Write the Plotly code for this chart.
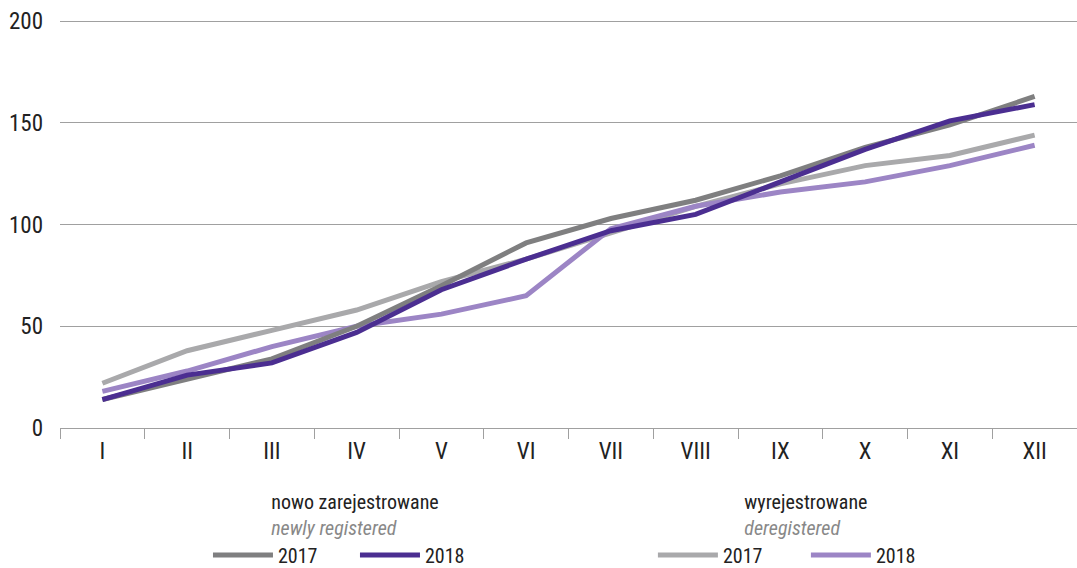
import plotly.graph_objects as go

months = ["I", "II", "III", "IV", "V", "VI", "VII", "VIII", "IX", "X", "XI", "XII"]
new_2017 = [14, 24, 34, 50, 70, 91, 103, 112, 124, 138, 149, 163]
new_2018 = [14, 26, 32, 47, 68, 83, 97, 105, 121, 137, 151, 159]
dereg_2017 = [22, 38, 48, 58, 72, 83, 96, 109, 120, 129, 134, 144]
dereg_2018 = [18, 28, 40, 50, 56, 65, 98, 109, 116, 121, 129, 139]
y_ticks = [0, 50, 100, 150, 200]

FONT = "Roboto Condensed, Liberation Sans Narrow, Roboto, sans-serif"

fig = go.Figure()
series = [
    ("2017", dereg_2017, "#a9a9ab", "legend2", 1),
    ("2018", dereg_2018, "#9c85c5", "legend2", 2),
    ("2017", new_2017, "#7f7f80", "legend", 1),
    ("2018", new_2018, "#4b2e91", "legend", 2),
]
for name, vals, color, lg, rank in series:
    fig.add_trace(go.Scatter(
        x=months, y=vals, name=name, mode="lines",
        line=dict(color=color, width=5), legend=lg, legendrank=rank,
    ))

def legend_cfg(x, title, entryw):
    return dict(
        x=x, y=-0.136, xref="paper", yref="paper",
        orientation="h", yanchor="top", xanchor="left",
        font=dict(family=FONT, size=20, color="#222"),
        bgcolor="rgba(0,0,0,0)", entrywidth=entryw, itemwidth=60,
        title=dict(text=title, side="top center",
                   font=dict(family=FONT, size=20, color="#222")),
    )

fig.update_layout(
    width=1077, height=568,
    margin=dict(l=60, r=0, t=20, b=140, autoexpand=False),
    plot_bgcolor="white", paper_bgcolor="white",
    font=dict(family=FONT, size=22, color="#222"),
    xaxis=dict(
        type="category", range=[-0.5, 11.5], automargin=False,
        showline=True, linecolor="#a0a0a0", linewidth=1,
        ticks="outside", tickson="boundaries", ticklen=10, tickcolor="#a0a0a0",
        showgrid=False, tickfont=dict(size=23, color="#222"),
        ticklabelstandoff=2,
    ),
    yaxis=dict(
        range=[0, 200.6], tickvals=y_ticks, showgrid=True, automargin=False,
        gridcolor="#a0a0a0", gridwidth=1, zeroline=False, showline=False,
        ticks="", ticklabelstandoff=16, tickfont=dict(size=23, color="#222"),
    ),
    legend=legend_cfg(
        0.1455,
        "nowo zarejestrowane<br><span style='color:#888'><i>newly registered</i></span>",
        72),
    legend2=legend_cfg(
        0.583,
        "wyrejestrowane<br><span style='color:#888'><i>deregistered</i></span>",
        78),
)

fig.write_html(
    "out.html",
    config={"displayModeBar": False},
    post_script="document.body.style.margin='0';document.body.style.overflow='hidden';",
)
